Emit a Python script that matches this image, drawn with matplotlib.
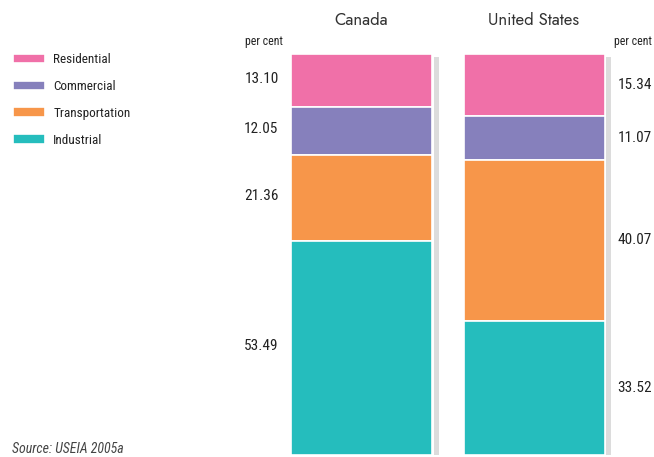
import matplotlib
matplotlib.use("Agg")
import matplotlib.pyplot as plt
from matplotlib import font_manager
import numpy as np

# Share of end-use energy demand by sector (per cent)
countries = ["Canada", "United States"]
sectors = ["Residential", "Commercial", "Transportation", "Industrial"]
canada = [13.10, 12.05, 21.36, 53.49]
united_states = [15.34, 11.07, 40.07, 33.52]
colors = ["#F070A8", "#8680BC", "#F7964A", "#25BDBD"]
unit_label = "per cent"
source_note = "Source: USEIA 2005a"

available = {f.name for f in font_manager.fontManager.ttflist}


def pick(*names):
    for n in names:
        if n in available:
            return n
    return "DejaVu Sans"


narrow = pick("Roboto Condensed", "Archivo Narrow", "PT Sans Narrow",
              "Liberation Sans Narrow", "Open Sans Condensed")
geo = pick("Jost", "Questrial", "Didact Gothic", "Lato")

W, H = 654, 457
fig = plt.figure(figsize=(W / 100, H / 100), dpi=100)

# axes placed in pixel terms: x 280..625, y 54..455 (from top)
ax = fig.add_axes([280 / W, (H - 455) / H, 345 / W, (455 - 54) / H])
px_per_unit = 172.5
ax.set_xlim(-(361.5 - 280) / px_per_unit, 1 + (625 - 534) / px_per_unit)
ax.set_ylim(100, 0)
ax.axis("off")

bar_w = 141 / px_per_unit
xs = np.arange(len(countries))
data = np.array([canada, united_states])

# drop shadow strip along the right side of each column
shadow_off = 74.5 / px_per_unit
ax.bar(xs + shadow_off, 100 - 0.75, bottom=0.75, width=5 / px_per_unit,
       color="#DCDCDC", zorder=1)

bottoms = np.zeros(len(countries))
handles = []
for j, sec in enumerate(sectors):
    h = ax.bar(xs, data[:, j], bottom=bottoms, width=bar_w, color=colors[j],
               edgecolor="white", linewidth=1.2, zorder=2, label=sec)
    handles.append(h)
    for i in range(len(countries)):
        yc = bottoms[i] + data[i, j] / 2
        if i == 0:
            ax.annotate(f"{data[i, j]:.2f}", xy=(xs[i] - bar_w / 2, yc),
                        xytext=(-9, 1), textcoords="offset points",
                        ha="right", va="center", fontsize=11,
                        family=narrow, color="#222222", annotation_clip=False)
        else:
            ax.annotate(f"{data[i, j]:.2f}", xy=(xs[i] + bar_w / 2, yc),
                        xytext=(9.5, 0), textcoords="offset points",
                        ha="left", va="center", fontsize=11,
                        family=narrow, color="#222222", annotation_clip=False)
    bottoms += data[:, j]

# column titles and unit labels
for i, name in enumerate(countries):
    ax.annotate(name, xy=(xs[i], 0), xytext=(0, 24), textcoords="offset points",
                ha="center", va="center", fontsize=12, family=geo,
                color="#333333", annotation_clip=False)
ax.annotate(unit_label, xy=(xs[0] - bar_w / 2, 0), xytext=(-6, 9),
            textcoords="offset points", ha="right", va="center", fontsize=8.5,
            family=narrow, color="#222222", annotation_clip=False)
ax.annotate(unit_label, xy=(xs[1] + bar_w / 2, 0), xytext=(7, 9),
            textcoords="offset points", ha="left", va="center", fontsize=8.5,
            family=narrow, color="#222222", annotation_clip=False)

leg = fig.legend(handles=handles, labels=sectors, loc="upper left",
                 bbox_to_anchor=(13 / W, 1 - 53 / H), frameon=False,
                 borderaxespad=0, borderpad=0, handlelength=2.4,
                 handleheight=0.7, handletextpad=0.65, labelspacing=1.05,
                 prop={"family": narrow, "size": 9.5})
for t in leg.get_texts():
    t.set_color("#222222")

fig.text(12 / W, 1 - 449 / H, source_note, ha="left", va="center",
         fontsize=10, family=narrow, style="italic", color="#444444")

fig.savefig("out.png", dpi=100)
